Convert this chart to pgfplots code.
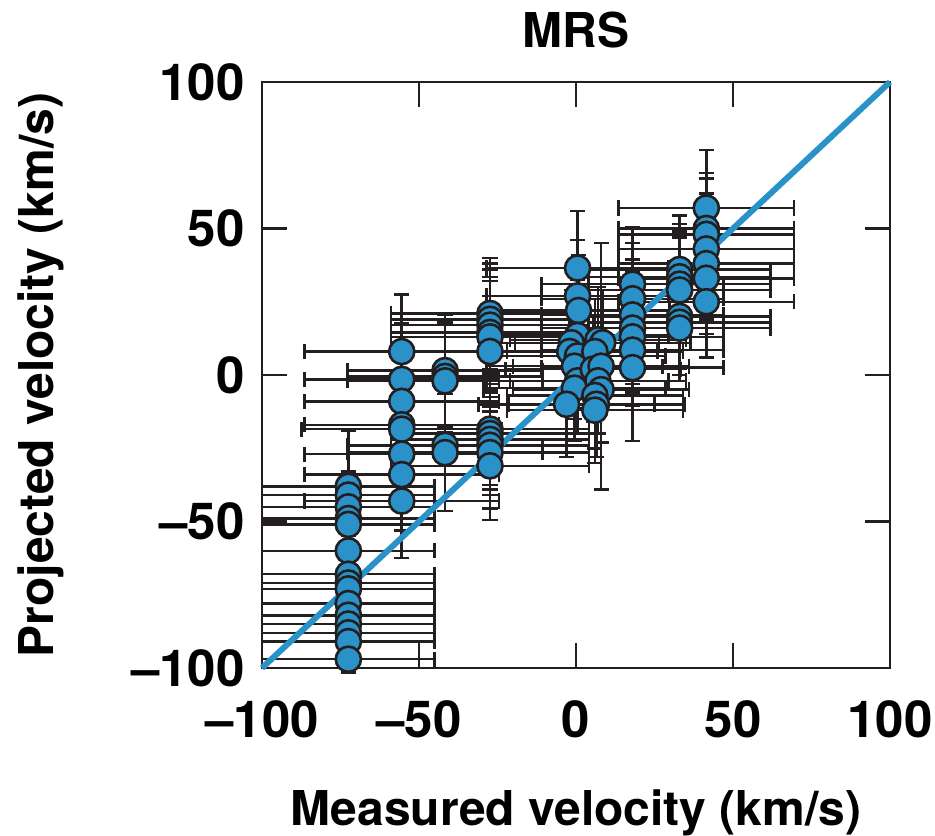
\documentclass[border=0pt]{standalone}
\usepackage{fontspec}
\setmainfont{TeX Gyre Heros}
\usepackage{pgfplots}
\usepackage{pgfplotstable}
\pgfplotsset{compat=1.18}
\definecolor{pblue}{HTML}{2A92C8}
\definecolor{ink}{HTML}{231F20}

\pgfplotstableread{
x y ex ey
-72.5 -38 27.5 19
-72.5 -41 27.5 14
-72.5 -45 27.5 12
-72.5 -49 27.5 12
-72.5 -51 27.5 10
-72.5 -60 27.5 12
-72.5 -68 27.5 10
-72.5 -71 27.5 10
-72.5 -73 27.5 10
-72.5 -78 27.5 10
-72.5 -82 27.5 10
-72.5 -85 27.5 10
-72.5 -88 27.5 8
-72.5 -91 27.5 8
-72.5 -97 27.5 4.5
-55.5 8 31 19.5
-55.5 -1.5 31 19
-55.5 -9 31 19
-55.5 -17 31 19
-55.5 -18.5 32 19
-55.5 -27 31 19
-55.5 -34 31 19
-55.5 -43 31 19.5
-41.7 1.5 31 19
-41.7 -0.5 31 19
-41.7 -2 31 20
-41.7 -24 31 19
-41.7 -26.5 31 20
-27.4 21 31.5 19
-27.4 19 31.5 19
-27.4 17 31.5 19
-27.4 14.5 31.5 19
-27.4 13 31.5 19
-27.4 8 31.5 19
-27.4 -18.5 31.5 19
-27.4 -20 31.5 19
-27.4 -22 31.5 19
-27.4 -24 31.5 19
-27.4 -26.5 31.5 19
-27.4 -31 31.5 18.5
0.5 36.5 29 19.5
0.5 27 29 19
0.8 22 29 19
0.5 13.5 29 19
-1.5 11 28 18
-2 8 28 18
0.5 6.5 28 18
-0.5 3 28 18
0.5 -2 29 18
-0.5 -4.5 29 18
-3 -10 28 18
7 12 28 18
8.5 11 28 18
6 8 28 18
5.5 2 28 18
8 3 28 42
7 -2 28 18
8 -5 28 18
6 -7 28 18
6.5 -10 28 18
6 -12 28 18
18 31 29 19.5
18 26 29 19
18 20.5 29 19
18 16 29 19
18 13 29 19
18 8.5 29 19
18 2.5 29 25
33 36 29 18.5
33 33.5 29 18
33 31 29 18
33 29 29 18
33 20 29 18
33 18 29 18
33 16 29 18
41.5 57 28 19.8
41.5 50 28 19
41.5 48 28 19
41.5 43 28 19
41.5 38 28 19
41.5 33 28 19
41.5 25 28 19
}\datatable

\begin{document}
\begin{tikzpicture}
\begin{axis}[
  name=ax,
  width=314pt, height=293pt, scale only axis,
  xmin=-100, xmax=100, ymin=-100, ymax=100,
  xtick={-100,-50,0,50,100}, ytick={-100,-50,0,50,100},
  xticklabels={–100,–50,0,50,100},
  yticklabels={–100,–50,0,50,100},
  tick align=inside,
  major tick length=12.5pt,
  axis line style={line width=1.1pt, color=ink},
  tick style={line width=1.1pt, color=ink},
  ticklabel style={font=\bfseries\fontsize{25.5}{30}\selectfont, inner sep=0pt},
  xticklabel style={anchor=north, yshift=-16pt},
  yticklabel style={anchor=east, xshift=-8.5pt},
  clip=false,
]
\addplot[draw=none, mark=none, forget plot,
  error bars/.cd, x dir=both, x explicit, y dir=both, y explicit,
  error bar style={line width=1.25pt, color=ink},
  error mark options={rotate=90, mark size=3.8pt, line width=1.25pt, color=ink}]
  table[x=x, y=y, x error=ex, y error=ey] {\datatable};
\addplot[pblue, line width=3pt, no marks] coordinates {(-100,-100) (100,100)};
\addplot[only marks, mark=*, mark size=6.3pt,
  mark options={fill=pblue, draw=ink, line width=1.3pt}]
  table[x=x, y=y] {\datatable};
\end{axis}
\node[font=\bfseries\fontsize{24}{28}\selectfont, anchor=base, inner sep=0pt]
  at ([yshift=17pt]ax.north) {MRS};
\node[font=\bfseries\fontsize{24}{28}\selectfont, anchor=base, inner sep=0pt]
  at ([yshift=-78.5pt]ax.south) {Measured velocity (km/s)};
\node[font=\bfseries\fontsize{24}{28}\selectfont, anchor=base, inner sep=0pt, rotate=90]
  at ([xshift=-104pt]ax.west) {Projected velocity (km/s)};
\pgfresetboundingbox
\path[use as bounding box] ([xshift=-131pt,yshift=-83.5pt]ax.south west) rectangle ([xshift=22.5pt,yshift=41pt]ax.north east);
\end{tikzpicture}
\end{document}
